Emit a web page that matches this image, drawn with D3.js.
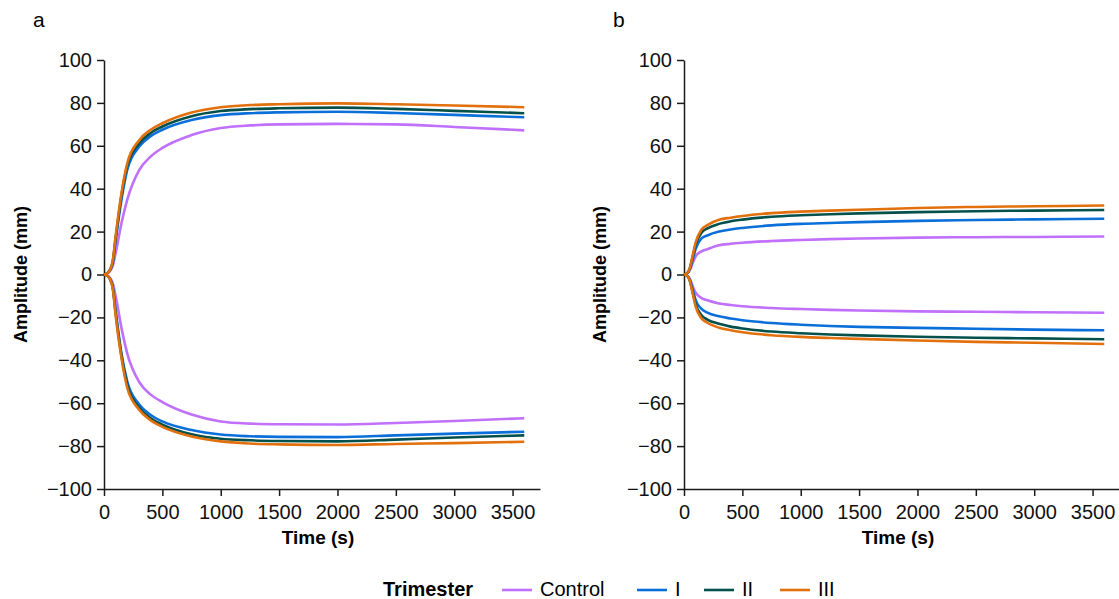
<!DOCTYPE html>
<html><head><meta charset="utf-8">
<script src="https://cdn.jsdelivr.net/npm/d3@7"></script>
<style>body{margin:0;background:#fff;} svg{display:block;font-family:"Liberation Sans",Arial,sans-serif;}</style>
</head><body>
<svg id="c" width="1119" height="599"></svg>
<script>
const times = [0,25,50,75,100,150,200,300,400,500,750,1000,1250,1500,2000,2500,3000,3600];
const seriesNames = ["Control","I","II","III"];
const colors = ["#c070fa","#0a6fd9","#04504a","#e2700c"];
const xTicks = [0,500,1000,1500,2000,2500,3000,3500];
const yTicks = [-100,-80,-60,-40,-20,0,20,40,60,80,100];
const panelLabels = ["a","b"];

// Panel a
const aCtrlUp = [0,0.3,1.5,4,10,24,35,48.5,55,59,65,68.3,69.5,70,70.2,70,68.8,67.2];
const aIUp    = [0,0.5,2,5.5,16,35,49,59.5,64.5,67.5,72,74.3,75.2,75.6,75.9,75.3,74.4,73.3];
const aIIUp   = [0,0.5,2,6,17,37,51,61,66,69,73.8,76.2,77.1,77.5,77.8,77.2,76.3,75.2];
const aIIIUp  = [0,0.5,2,6.5,18,38,52,62.5,67.5,70.5,75.5,78,79,79.4,79.8,79.4,78.8,78];
const aCtrlLo = [0,-0.3,-1.5,-4,-10,-25,-37,-50,-56,-59.5,-65.3,-68.5,-69.5,-69.8,-69.9,-69.2,-68.3,-67];
const aILo    = [0,-0.5,-2,-6,-17,-37,-50,-60.5,-65.5,-68.5,-72.5,-74.6,-75.4,-75.7,-75.8,-75,-74.2,-73.3];
const aIILo   = [0,-0.5,-2,-6,-18,-38,-51.5,-62,-67,-70,-74.5,-76.6,-77.3,-77.6,-77.8,-77,-76,-75];
const aIIILo  = [0,-0.5,-2,-6.5,-19,-39,-53,-63,-68,-71,-75.5,-77.8,-78.8,-79.2,-79.5,-79,-78.6,-78];

// Panel b
const bCtrlUp = [0,0.4,2,5.5,8.5,10.8,11.8,13.6,14.3,14.8,15.6,16.1,16.5,16.8,17.2,17.4,17.5,17.7];
const bIUp    = [0,0.5,2.5,7,12,16.8,18.2,20,21,21.7,22.9,23.6,24,24.4,25,25.4,25.7,26];
const bIIUp   = [0,0.5,3,8.5,14,19.5,21.5,23.6,24.8,25.6,26.9,27.6,28.1,28.5,29.1,29.5,29.8,30.1];
const bIIIUp  = [0,0.5,3,9,15,21,23,25.5,26.5,27.3,28.6,29.3,29.8,30.2,31,31.5,31.8,32.2];
const bCtrlLo = [0,-0.4,-2,-5.5,-8.5,-11,-12,-13.5,-14.2,-14.8,-15.6,-16.1,-16.5,-16.8,-17.2,-17.4,-17.6,-17.8];
const bILo    = [0,-0.5,-2.5,-7,-12,-16,-17.8,-19.5,-20.5,-21.3,-22.6,-23.4,-24,-24.4,-24.9,-25.3,-25.7,-26];
const bIILo   = [0,-0.5,-3,-8.5,-14,-19,-21,-23,-24.3,-25.2,-26.6,-27.4,-28,-28.4,-29,-29.5,-29.8,-30.2];
const bIIILo  = [0,-0.5,-3,-9,-15,-20.5,-22.5,-24.8,-26,-26.9,-28.3,-29.1,-29.6,-30,-30.8,-31.4,-31.8,-32.4];

const panels = [
  {left:104, up:[aCtrlUp,aIUp,aIIUp,aIIIUp], lo:[aCtrlLo,aILo,aIILo,aIIILo]},
  {left:684, up:[bCtrlUp,bIUp,bIIUp,bIIIUp], lo:[bCtrlLo,bILo,bIILo,bIIILo]}
];

const svg = d3.select("#c");
const plotTop = 60, plotBottom = 489, plotW = 436;
const axisColor = "#1a1a1a";

panels.forEach((p,pi)=>{
  const g = svg.append("g").attr("transform",`translate(${p.left},0)`);
  const x = d3.scaleLinear().domain([0,3735]).range([0,plotW]);
  const y = d3.scaleLinear().domain([-100,100]).range([plotBottom,plotTop]);

  const fmt = d => d<0 ? "\u2212"+Math.abs(d) : String(d);
  const yAx = g.append("g").call(d3.axisLeft(y).tickValues(yTicks).tickFormat(fmt).tickSize(7).tickPadding(5).tickSizeOuter(0));
  const xAx = g.append("g").attr("transform",`translate(0,${plotBottom})`)
    .call(d3.axisBottom(x).tickValues(xTicks).tickFormat(d=>String(d)).tickSize(7).tickPadding(9).tickSizeOuter(0));
  [yAx,xAx].forEach(a=>{
    a.selectAll("path,line").attr("stroke",axisColor).attr("stroke-width",1.5);
    a.selectAll("text").attr("font-size",20).attr("fill","#111").attr("font-family","Liberation Sans, Arial, sans-serif");
  });

  const line = d3.line().x((d,i)=>x(times[i])).y(d=>y(d)).curve(d3.curveMonotoneX);
  [0,1,2,3].forEach(si=>{
    [p.up[si],p.lo[si]].forEach(arr=>{
      g.append("path").attr("d",line(arr)).attr("fill","none")
        .attr("stroke",colors[si]).attr("stroke-width",2.6).attr("stroke-linejoin","round");
    });
  });

  g.append("text").attr("x",plotW/2-4).attr("y",544).attr("text-anchor","middle")
    .attr("font-weight","bold").attr("font-size",19).text("Time (s)");
  g.append("text").attr("transform",`translate(${pi===0?-77:-78},${(plotTop+plotBottom)/2}) rotate(-90)`)
    .attr("text-anchor","middle").attr("font-weight","bold").attr("font-size",18).text("Amplitude (mm)");
  svg.append("text").attr("x",p.left-71).attr("y",27).attr("font-size",21).text(panelLabels[pi]);
});

// Legend
const lg = svg.append("g");
lg.append("text").attr("x",383).attr("y",596).attr("font-weight","bold").attr("font-size",20).text("Trimester");
const legendX = [502,637,704,780];
seriesNames.forEach((n,i)=>{
  lg.append("line").attr("x1",legendX[i]).attr("x2",legendX[i]+30).attr("y1",590).attr("y2",590)
    .attr("stroke",colors[i]).attr("stroke-width",2.6);
  lg.append("text").attr("x",legendX[i]+38).attr("y",596).attr("font-size",20).text(n);
});
</script>
</body></html>
